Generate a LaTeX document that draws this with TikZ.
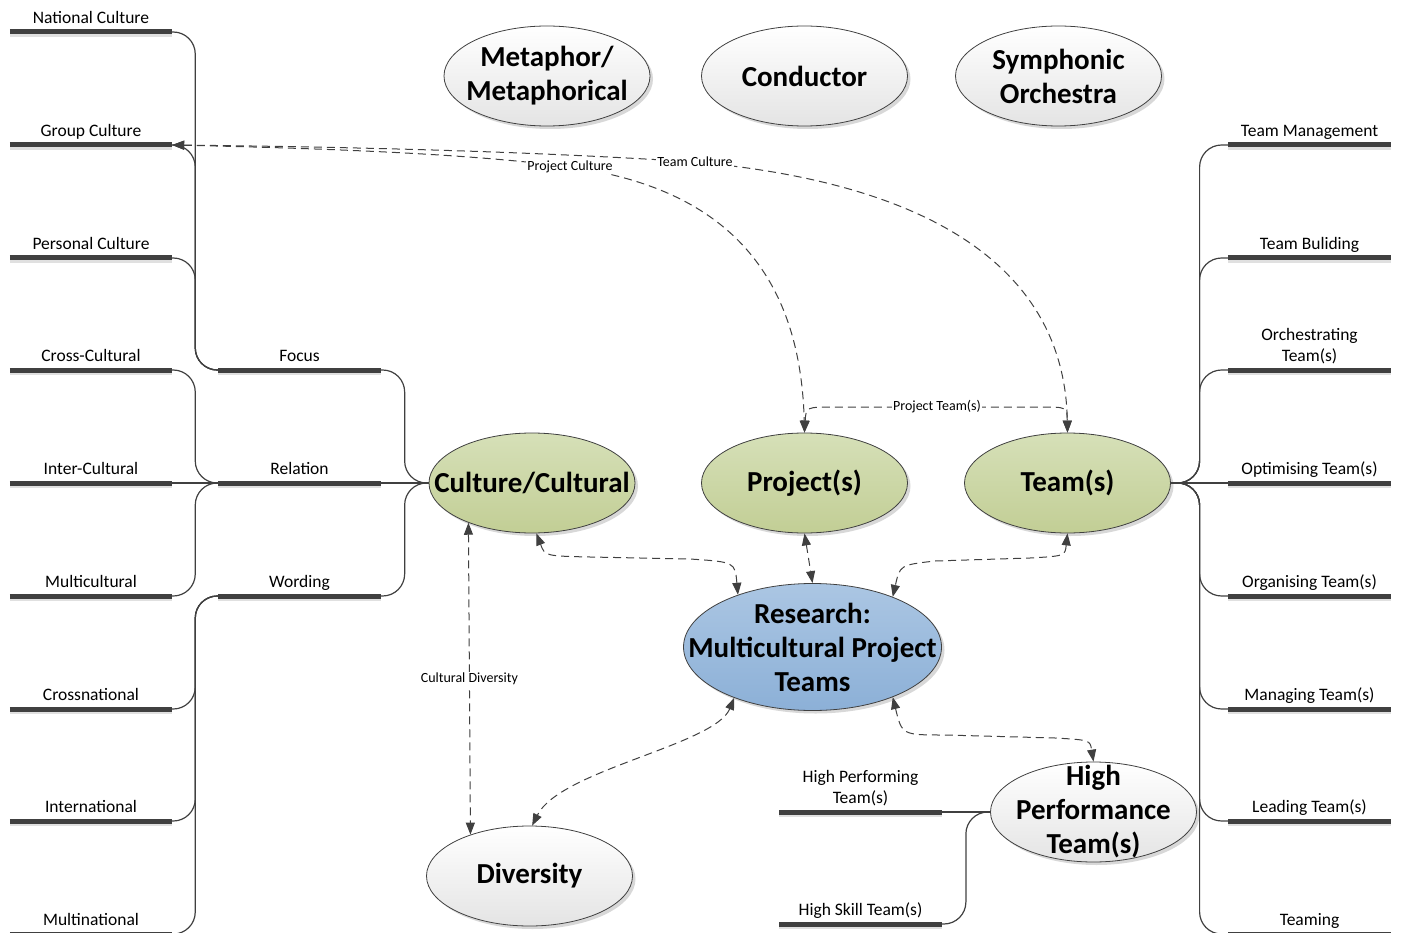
\documentclass[tikz,border=0pt]{standalone}
\usepackage{fontspec}
\setmainfont{Carlito}
\usetikzlibrary{shapes.geometric,arrows.meta,calc,shadows}
\definecolor{ink}{HTML}{404040}
\definecolor{paleb}{HTML}{E4E4E4}
\definecolor{greent}{HTML}{D6E0B8}
\definecolor{greenb}{HTML}{C2CE95}
\definecolor{bluet}{HTML}{ABC6E3}
\definecolor{blueb}{HTML}{8CB0D7}

\begin{document}
\begin{tikzpicture}[x=1pt,y=-1pt,
	bubble/.style={ellipse, draw=ink, line width=0.8pt, minimum width=206pt, minimum height=100pt,
		inner xsep=-45pt, inner ysep=-35pt, align=center, font=\bfseries\fontsize{29}{34}\selectfont,
		drop shadow={shadow xshift=3pt, shadow yshift=-3pt, fill=black!30, opacity=0.5}},
	pale/.style={bubble, top color=white, bottom color=paleb},
	leafy/.style={bubble, top color=greent, bottom color=greenb},
	sky/.style={bubble, top color=bluet, bottom color=blueb},
	branch/.style={anchor=south, minimum width=162pt, inner xsep=0pt, inner ysep=3pt,
		text depth=5pt, font=\fontsize{17.5}{21}\selectfont},
	bar/.style={line width=5pt, draw=ink},
	barshade/.style={line width=4pt, draw=black!12},
	twig/.style={draw=ink, line width=1.2pt, rounded corners=22pt,
		to path={-| ($(\tikztostart)!0.5!(\tikztotarget)$) |- (\tikztotarget)}},
	link/.style={draw=ink, line width=1pt, dash pattern=on 8pt off 5pt,
		{Triangle[length=12pt,width=9pt]}-{Triangle[length=12pt,width=9pt]}},
	tag/.style={fill=white, inner sep=1pt, font=\fontsize{14}{16}\selectfont}]
	\useasboundingbox (0,0) rectangle (1402,933);

	% ramas de la izquierda
	\node[branch] (nat) at (91,32) {National Culture};
	\node[branch] (grp) at (91,145) {Group Culture};
	\node[branch] (pers) at (91,258) {Personal Culture};
	\node[branch] (cross) at (91,370) {Cross-Cultural};
	\node[branch] (inter) at (91,483) {Inter-Cultural};
	\node[branch] (multi) at (91,596) {Multicultural};
	\node[branch] (cnat) at (91,709) {Crossnational};
	\node[branch] (intl) at (91,821) {International};
	\node[branch] (mnat) at (91,934) {Multinational};
	\node[branch] (focus) at (299.5,370) {Focus};
	\node[branch] (rel) at (299.5,483) {Relation};
	\node[branch] (word) at (299.5,596) {Wording};

	% ramas de la derecha
	\node[branch] (tman) at (1309.5,145) {Team Management};
	\node[branch] (tbuild) at (1309.5,258) {Team Buliding};
	\node[branch] (orch) at (1309.5,370) {%
		\begin{tabular}[b]{@{}c@{}}
			Orchestrating\\
			Team(s)
		\end{tabular}};
	\node[branch] (opt) at (1309.5,483) {Optimising Team(s)};
	\node[branch] (org) at (1309.5,596) {Organising Team(s)};
	\node[branch] (mng) at (1309.5,709) {Managing Team(s)};
	\node[branch] (lead) at (1309.5,821) {Leading Team(s)};
	\node[branch] (teaming) at (1309.5,934) {Teaming};
	\node[branch] (hperf) at (860.5,812) {%
		\begin{tabular}[b]{@{}c@{}}
			High Performing\\
			Team(s)
		\end{tabular}};
	\node[branch] (hskill) at (860.5,924) {High Skill Team(s)};

	\foreach \b in {nat,grp,pers,cross,inter,multi,cnat,intl,mnat,focus,rel,word,
		tman,tbuild,orch,opt,org,mng,lead,teaming,hperf,hskill}{
		\draw[barshade] ([yshift=-3pt]\b.south west) -- ([yshift=-3pt]\b.south east);
		\draw[bar] (\b.south west) -- (\b.south east);
	}

	% burbujas
	\node[pale] (meta) at (547,76) {Metaphor/\\Metaphorical};
	\node[pale] (cond) at (804.5,76) {Conductor};
	\node[pale] (orc) at (1058.5,76) {Symphonic\\Orchestra};
	\node[leafy] (cult) at (532,483) {Culture/Cultural};
	\node[leafy] (proj) at (804.5,483) {Project(s)};
	\node[leafy] (team) at (1067.5,483) {Team(s)};
	\node[sky, minimum width=258pt, minimum height=127pt] (res) at (812.5,647)
		{Research:\\Multicultural Project\\Teams};
	\node[pale] (div) at (529.5,876) {Diversity};
	\node[pale] (hpt) at (1093.5,812) {High\\Performance\\Team(s)};

	% conectores
	\foreach \a/\b in {nat/focus,grp/focus,pers/focus,cross/rel,multi/rel,cnat/word,intl/word,mnat/word}
		\draw[twig] (\a.south east) to (\b.south west);
	\draw[draw=ink, line width=1.2pt] (inter.south east) -- (rel.south west);
	\foreach \a in {focus,word}
		\draw[twig] (\a.south east) to (cult.west);
	\draw[draw=ink, line width=1.2pt] (rel.south east) -- (cult.west);
	\foreach \b in {tman,tbuild,orch,org,mng,lead,teaming}
		\draw[twig] (team.east) to (\b.south west);
	\draw[draw=ink, line width=1.2pt] (team.east) -- (opt.south west);
	\draw[draw=ink, line width=1.2pt] (hperf.south east) -- (hpt.west);
	\draw[twig] (hskill.south east) to (hpt.west);

	\draw[link] (grp.south east) .. controls (400,150) and (500,158) .. (570,167)
		node[tag] {Project Culture} .. controls (700,185) and (800,250) .. (proj.north);
	\draw[link] (grp.south east) .. controls (450,148) and (600,156) .. (695,162)
		node[tag] {Team Culture} .. controls (950,185) and (1065,280) .. (team.north);
	\draw[link] (proj.north) .. controls (806,407) .. (835,407) -- (937,407)
		node[tag] {Project Team(s)} -- (1040,407) .. controls (1067,407) .. (team.north);
	\draw[link] (cult.-85) .. controls (545,556) .. (590,557) -- (690,559)
		.. controls (735,562) .. (res.145);
	\draw[link] (proj.south) -- (res.north);
	\draw[link] (team.south) .. controls (1065,556) .. (1030,558) -- (935,561)
		.. controls (900,565) .. (res.32);
	\draw[link] (cult.-148.6) -- node[tag] {Cultural Diversity} (div.145);
	\draw[link] (res.-147) .. controls (715,745) and (560,770) .. (div.87);
	\draw[link] (res.-32) .. controls (902,735) .. (945,735) -- (1055,738)
		.. controls (1090,740) .. (hpt.north);
\end{tikzpicture}
\end{document}
